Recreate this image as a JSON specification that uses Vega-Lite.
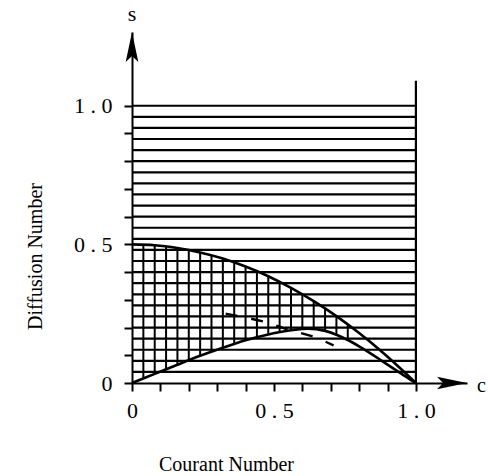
{
  "$schema": "https://vega.github.io/schema/vega-lite/v6.json",
  "width": 335,
  "height": 351,
  "autosize": {"type": "none"},
  "padding": {"left": 132, "top": 32, "right": 21, "bottom": 93},
  "background": "white",
  "config": {"view": {"stroke": null}},
  "datasets": {
    "hlines": [
      {"s": 0.04}, {"s": 0.08}, {"s": 0.12}, {"s": 0.16}, {"s": 0.20},
      {"s": 0.24}, {"s": 0.28}, {"s": 0.32}, {"s": 0.36}, {"s": 0.40},
      {"s": 0.44}, {"s": 0.48}, {"s": 0.52}, {"s": 0.56}, {"s": 0.60},
      {"s": 0.64}, {"s": 0.68}, {"s": 0.72}, {"s": 0.76}, {"s": 0.80},
      {"s": 0.84}, {"s": 0.88}, {"s": 0.92}, {"s": 0.96}, {"s": 1.00}
    ],
    "vlines": [
      {"c": 0.04, "lo": 0.016, "hi": 0.499},
      {"c": 0.08, "lo": 0.033, "hi": 0.497},
      {"c": 0.12, "lo": 0.05, "hi": 0.493},
      {"c": 0.16, "lo": 0.066, "hi": 0.487},
      {"c": 0.20, "lo": 0.082, "hi": 0.48},
      {"c": 0.24, "lo": 0.098, "hi": 0.471},
      {"c": 0.28, "lo": 0.113, "hi": 0.461},
      {"c": 0.32, "lo": 0.127, "hi": 0.449},
      {"c": 0.36, "lo": 0.141, "hi": 0.435},
      {"c": 0.40, "lo": 0.154, "hi": 0.42},
      {"c": 0.44, "lo": 0.165, "hi": 0.403},
      {"c": 0.48, "lo": 0.175, "hi": 0.385},
      {"c": 0.52, "lo": 0.183, "hi": 0.365},
      {"c": 0.56, "lo": 0.19, "hi": 0.343},
      {"c": 0.60, "lo": 0.195, "hi": 0.32},
      {"c": 0.64, "lo": 0.195, "hi": 0.295},
      {"c": 0.68, "lo": 0.188, "hi": 0.269},
      {"c": 0.72, "lo": 0.174, "hi": 0.241},
      {"c": 0.76, "lo": 0.155, "hi": 0.211}
    ],
    "upper": [
      {"c": 0, "s": 0.5}, {"c": 0.08, "s": 0.497}, {"c": 0.16, "s": 0.487},
      {"c": 0.24, "s": 0.471}, {"c": 0.32, "s": 0.449}, {"c": 0.40, "s": 0.42},
      {"c": 0.48, "s": 0.385}, {"c": 0.56, "s": 0.343}, {"c": 0.64, "s": 0.295},
      {"c": 0.72, "s": 0.241}, {"c": 0.80, "s": 0.18}, {"c": 0.88, "s": 0.113},
      {"c": 0.94, "s": 0.058}, {"c": 1.0, "s": 0}
    ],
    "lower": [
      {"c": 0, "s": 0}, {"c": 0.08, "s": 0.033}, {"c": 0.16, "s": 0.066},
      {"c": 0.24, "s": 0.098}, {"c": 0.32, "s": 0.127}, {"c": 0.40, "s": 0.154},
      {"c": 0.48, "s": 0.175}, {"c": 0.56, "s": 0.19}, {"c": 0.62, "s": 0.196},
      {"c": 0.68, "s": 0.188}, {"c": 0.72, "s": 0.174}, {"c": 0.76, "s": 0.155},
      {"c": 0.80, "s": 0.132}, {"c": 0.84, "s": 0.107}, {"c": 0.88, "s": 0.08},
      {"c": 0.92, "s": 0.053}, {"c": 0.96, "s": 0.026}, {"c": 1.0, "s": 0}
    ],
    "dashed": [
      {"c": 0.33, "s": 0.25}, {"c": 0.40, "s": 0.236}, {"c": 0.47, "s": 0.22},
      {"c": 0.55, "s": 0.192}, {"c": 0.63, "s": 0.17}, {"c": 0.71, "s": 0.136}
    ]
  },
  "layer": [
    {
      "data": {"name": "hlines"},
      "mark": {"type": "rule", "color": "black", "strokeWidth": 2.2},
      "encoding": {
        "x": {"datum": 0, "type": "quantitative",
          "scale": {"domain": [0, 1.18], "nice": false, "zero": false},
          "axis": {
            "values": [0, 0.1, 0.2, 0.3, 0.4, 0.5, 0.6, 0.7, 0.8, 0.9, 1.0],
            "tickCount": 30,
            "labelExpr": "abs(datum.value) < 0.001 ? '0' : (abs(datum.value - 0.5) < 0.001 ? '0 . 5' : (abs(datum.value - 1) < 0.001 ? '1 . 0' : ''))",
            "grid": false,
            "domainColor": "black", "domainWidth": 2,
            "tickColor": "black", "tickWidth": 2, "tickSize": 8,
            "labelFont": "Liberation Serif", "labelFontSize": 22, "labelColor": "black",
            "labelPadding": 9, "labelFlush": false, "labelOverlap": false, "labelBound": false,
            "title": "Courant Number",
            "titleFont": "Liberation Serif", "titleFontSize": 20, "titleFontWeight": "normal",
            "titleColor": "black",
            "titleX": 94, "titleY": 87, "titleAlign": "center", "titleBaseline": "alphabetic"
          }
        },
        "x2": {"datum": 1},
        "y": {"field": "s", "type": "quantitative",
          "scale": {"domain": [0, 1.266], "nice": false, "zero": false},
          "axis": {
            "values": [0, 0.1, 0.2, 0.3, 0.4, 0.5, 0.6, 0.7, 0.8, 0.9, 1.0],
            "tickCount": 30,
            "labelExpr": "abs(datum.value) < 0.001 ? '0' : (abs(datum.value - 0.5) < 0.001 ? '0 . 5' : (abs(datum.value - 1) < 0.001 ? '1 . 0' : ''))",
            "grid": false,
            "domainColor": "black", "domainWidth": 2,
            "tickColor": "black", "tickWidth": 2, "tickSize": 8,
            "labelFont": "Liberation Serif", "labelFontSize": 22, "labelColor": "black",
            "labelPadding": 12, "labelFlush": false, "labelOverlap": false, "labelBound": false,
            "title": "Diffusion Number",
            "titleFont": "Liberation Serif", "titleFontSize": 20, "titleFontWeight": "normal",
            "titleColor": "black",
            "titleX": -97, "titleY": 224, "titleAlign": "center", "titleBaseline": "middle", "titleAngle": -90
          }
        }
      }
    },
    {
      "data": {"name": "vlines"},
      "mark": {"type": "rule", "color": "black", "strokeWidth": 2},
      "encoding": {
        "x": {"field": "c", "type": "quantitative"},
        "y": {"field": "lo", "type": "quantitative"},
        "y2": {"field": "hi"}
      }
    },
    {
      "data": {"values": [{"c": 1, "s0": 0, "s1": 1.09}]},
      "mark": {"type": "rule", "color": "black", "strokeWidth": 2.2},
      "encoding": {
        "x": {"field": "c", "type": "quantitative"},
        "y": {"field": "s0", "type": "quantitative"},
        "y2": {"field": "s1"}
      }
    },
    {
      "data": {"name": "upper"},
      "mark": {"type": "line", "color": "black", "strokeWidth": 2.6, "interpolate": "monotone"},
      "encoding": {
        "x": {"field": "c", "type": "quantitative"},
        "y": {"field": "s", "type": "quantitative"}
      }
    },
    {
      "data": {"name": "lower"},
      "mark": {"type": "line", "color": "black", "strokeWidth": 2.6, "interpolate": "monotone"},
      "encoding": {
        "x": {"field": "c", "type": "quantitative"},
        "y": {"field": "s", "type": "quantitative"}
      }
    },
    {
      "data": {"name": "dashed"},
      "mark": {"type": "line", "color": "black", "strokeWidth": 2.4, "strokeDash": [12, 14], "interpolate": "monotone"},
      "encoding": {
        "x": {"field": "c", "type": "quantitative"},
        "y": {"field": "s", "type": "quantitative"}
      }
    },
    {
      "data": {"values": [{"c": 1.18, "s": 0}]},
      "mark": {"type": "point", "shape": "M0,0 L-2,-0.42 L-1.6,0 L-2,0.42 Z", "size": 900, "filled": true, "color": "black", "opacity": 1},
      "encoding": {
        "x": {"field": "c", "type": "quantitative"},
        "y": {"field": "s", "type": "quantitative"}
      }
    },
    {
      "data": {"values": [{"c": 0, "s": 1.266}]},
      "mark": {"type": "point", "shape": "M0,0 L-0.42,2 L0,1.6 L0.42,2 Z", "size": 900, "filled": true, "color": "black", "opacity": 1},
      "encoding": {
        "x": {"field": "c", "type": "quantitative"},
        "y": {"field": "s", "type": "quantitative"}
      }
    },
    {
      "data": {"values": [{"c": 0, "s": 1.33, "t": "s"}]},
      "mark": {"type": "text", "font": "Liberation Serif", "fontSize": 22, "color": "black", "align": "center", "baseline": "middle"},
      "encoding": {
        "x": {"field": "c", "type": "quantitative"},
        "y": {"field": "s", "type": "quantitative"},
        "text": {"field": "t"}
      }
    },
    {
      "data": {"values": [{"c": 1.215, "s": -0.01, "t": "c"}]},
      "mark": {"type": "text", "font": "Liberation Serif", "fontSize": 20, "color": "black", "align": "left", "baseline": "middle"},
      "encoding": {
        "x": {"field": "c", "type": "quantitative"},
        "y": {"field": "s", "type": "quantitative"},
        "text": {"field": "t"}
      }
    }
  ]
}
